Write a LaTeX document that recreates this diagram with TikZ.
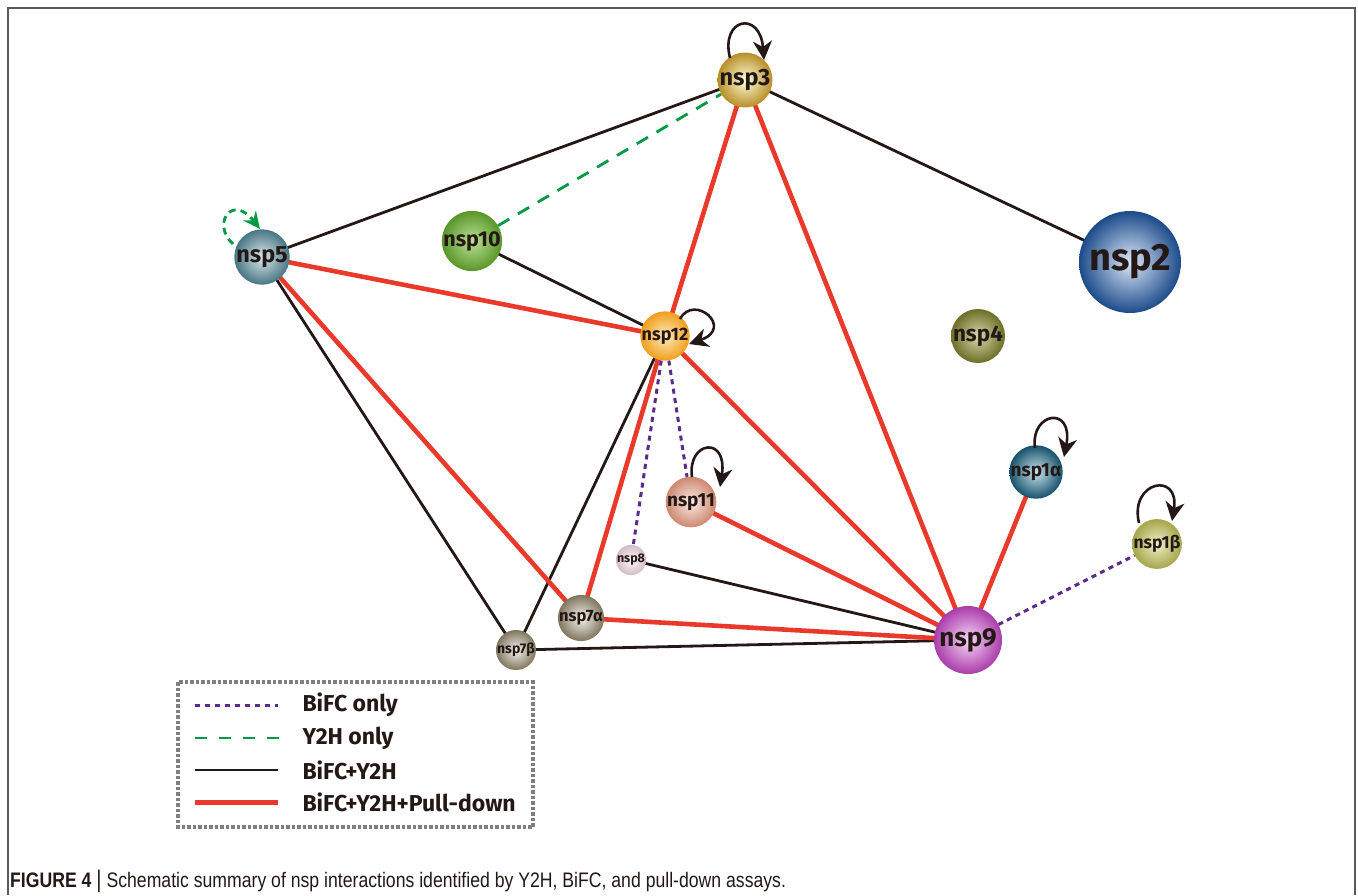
\documentclass[tikz,border=0pt]{standalone}
\usepackage{fontspec}
\setmainfont{Fira Sans}
\newfontfamily\capfont{Liberation Sans}
\usetikzlibrary{arrows.meta,backgrounds}
\definecolor{ink}{HTML}{231815}
\definecolor{redE}{HTML}{E8392A}
\definecolor{greenE}{HTML}{009944}
\definecolor{purpE}{HTML}{5B2A8C}
\definecolor{frameC}{HTML}{5A5A5A}
\definecolor{legC}{HTML}{7F7F7F}
\tikzset{
  ball/.style={circle, inner sep=0pt, shading=radial, text=ink, font=\bfseries},
  bk/.style={draw=ink, line width=2.8pt},
  rd/.style={draw=redE, line width=4.6pt},
  gd/.style={draw=greenE, line width=2.8pt, dash pattern=on 13pt off 10pt},
  pd/.style={draw=purpE, line width=3pt, dash pattern=on 5pt off 4.5pt},
  selfloop/.style={draw=ink, line width=2.6pt, -{Stealth[length=19pt,width=19pt,inset=6pt]}},
  gloop/.style={draw=greenE, line width=2.8pt, dash pattern=on 7pt off 5pt, -{Stealth[length=17pt,width=16pt,inset=6pt]}},
  legtext/.style={anchor=west, font=\bfseries\fontsize{23}{26}\selectfont, text=ink}
}
\begin{document}
\begin{tikzpicture}[x=1pt,y=-1pt]
\useasboundingbox (0,0) rectangle (1358,895);
\draw[frameC, line width=1.6pt] (8,895) -- (8,8) -- (1355,8) -- (1355,895);

% nodes
\node[ball, minimum size=50pt, inner color=yellow!15!white, outer color={rgb,255:red,184;green,142;blue,40}, font=\bfseries\fontsize{23.5}{26}\selectfont] (nsp3) at (745,80) {nsp3};
\node[ball, minimum size=54pt, inner color={rgb,255:red,220;green,232;blue,236}, outer color={rgb,255:red,72;green,118;blue,132}, font=\bfseries\fontsize{23.5}{26}\selectfont] (nsp5) at (262,257) {nsp5};
\node[ball, minimum size=56pt, inner color={rgb,255:red,190;green,225;blue,150}, outer color={rgb,255:red,88;green,150;blue,40}, font=\bfseries\fontsize{21.5}{24}\selectfont] (nsp10) at (472,241) {nsp10};
\node[ball, minimum size=102pt, inner color={rgb,255:red,220;green,232;blue,248}, outer color={rgb,255:red,28;green,75;blue,138}, font=\bfseries\fontsize{38}{40}\selectfont] (nsp2) at (1130,262) {nsp2};
\node[ball, minimum size=46pt, inner color={rgb,255:red,254;green,236;blue,190}, outer color={rgb,255:red,240;green,158;blue,28}, font=\bfseries\fontsize{18}{20}\selectfont] (nsp12) at (665,336) {nsp12};
\node[ball, minimum size=50pt, inner color={rgb,255:red,215;green,215;blue,170}, outer color={rgb,255:red,110;green,110;blue,40}, font=\bfseries\fontsize{22.5}{25}\selectfont] (nsp4) at (978,336) {nsp4};
\node[ball, minimum size=50pt, inner color={rgb,255:red,252;green,236;blue,230}, outer color={rgb,255:red,205;green,135;blue,112}, font=\bfseries\fontsize{19}{21}\selectfont] (nsp11) at (691,502) {nsp11};
\node[ball, minimum size=30pt, inner color={rgb,255:red,252;green,248;blue,250}, outer color={rgb,255:red,212;green,188;blue,198}, font=\bfseries\fontsize{12.5}{14}\selectfont] (nsp8) at (631,560) {nsp8};
\node[ball, minimum size=40pt, inner color={rgb,255:red,245;green,243;blue,236}, outer color={rgb,255:red,128;green,118;blue,95}, font=\bfseries\fontsize{16.5}{18}\selectfont] (nsp7a) at (581,618) {nsp7α};
\node[ball, minimum size=36pt, inner color={rgb,255:red,245;green,243;blue,236}, outer color={rgb,255:red,128;green,118;blue,95}, font=\bfseries\fontsize{14}{16}\selectfont] (nsp7b) at (516,650) {nsp7β};
\node[ball, minimum size=68pt, inner color={rgb,255:red,248;green,215;blue,248}, outer color={rgb,255:red,170;green,60;blue,170}, font=\bfseries\fontsize{26}{28}\selectfont] (nsp9) at (968,640) {nsp9};
\node[ball, minimum size=48pt, inner color={rgb,255:red,200;green,225;blue,235}, outer color={rgb,255:red,22;green,82;blue,108}, font=\bfseries\fontsize{19}{21}\selectfont] (nsp1a) at (1036,472) {nsp1α};
\node[ball, minimum size=46pt, inner color={rgb,255:red,240;green,240;blue,200}, outer color={rgb,255:red,165;green,165;blue,75}, font=\bfseries\fontsize{17.5}{19}\selectfont] (nsp1b) at (1157,544) {nsp1β};

% edges
\begin{scope}[on background layer]
\draw[bk] (nsp3.center) -- (nsp5.center);
\draw[bk] (nsp3.center) -- (nsp2.center);
\draw[bk] (nsp10.center) -- (nsp12.center);
\draw[bk] (nsp5.center) -- (nsp7b.center);
\draw[bk] (nsp12.center) -- (nsp7b.center);
\draw[bk] (nsp8.center) -- (nsp9.center);
\draw[bk] (nsp7b.center) -- (nsp9.center);
\draw[rd] (nsp3.center) -- (nsp12.center);
\draw[rd] (nsp3.center) -- (nsp9.center);
\draw[rd] (nsp5.center) -- (nsp12.center);
\draw[rd] (nsp5.center) -- (nsp7a.center);
\draw[rd] (nsp12.center) -- (nsp7a.center);
\draw[rd] (nsp12.center) -- (nsp9.center);
\draw[rd] (nsp11.center) -- (nsp9.center);
\draw[rd] (nsp7a.center) -- (nsp9.center);
\draw[rd] (nsp1a.center) -- (nsp9.center);
\draw[gd] (nsp10) -- (nsp3);
\draw[pd] (nsp12) -- (nsp11);
\draw[pd] (nsp12) -- (nsp8);
\draw[pd] (nsp9) -- (nsp1b);
\end{scope}

% self loops
\draw[selfloop] (nsp3.center) ++(-15,-22) .. controls +(-10,-40) and +(-4,-50) .. ++(34,2);
\draw[selfloop] (nsp12.center) ++(15,-17) .. controls +(14,-26) and +(46,-16) .. ++(9,25);
\draw[selfloop] (nsp11.center) ++(1,-25) .. controls +(-5,-36) and +(8,-52) .. ++(28,10);
\draw[selfloop] (nsp1a.center) ++(-1,-24) .. controls +(-5,-36) and +(10,-52) .. ++(29,9);
\draw[selfloop] (nsp1b.center) ++(-18,-21) .. controls +(-10,-42) and +(8,-50) .. ++(33,-2);
\draw[gloop] (nsp5.center) ++(-29,-13) .. controls +(-22,-20) and +(-28,-36) .. ++(27,-15);

% legend
\draw[legC, line width=3.2pt, dash pattern=on 3.5pt off 2pt] (178,682) rectangle (533,827);
\draw[pd, line width=3pt, dash pattern=on 5pt off 5pt] (195,705) -- (278,705);
\draw[gd, dash pattern=on 12pt off 12pt] (195,738) -- (280,738);
\draw[bk] (195,770) -- (278,770);
\draw[rd, line width=5pt] (195,802) -- (278,802);
\node[legtext] (l1) at (299,705) {BiFC only};
\node[legtext] (l2) at (299,738) {Y2H only};
\node[legtext] (l3) at (299,770) {BiFC+Y2H};
\node[legtext] (l4) at (299,802) {BiFC+Y2H+Pull-down};

% caption
\node[anchor=base west, inner sep=0pt, text=ink] (cap) at (10,887) {\scalebox{0.84}[1]{\capfont\fontsize{21}{24}\selectfont\textbf{FIGURE 4} {\fontsize{24}{24}\selectfont |} Schematic summary of nsp interactions identified by Y2H, BiFC, and pull-down assays.}};
\end{tikzpicture}
\end{document}
